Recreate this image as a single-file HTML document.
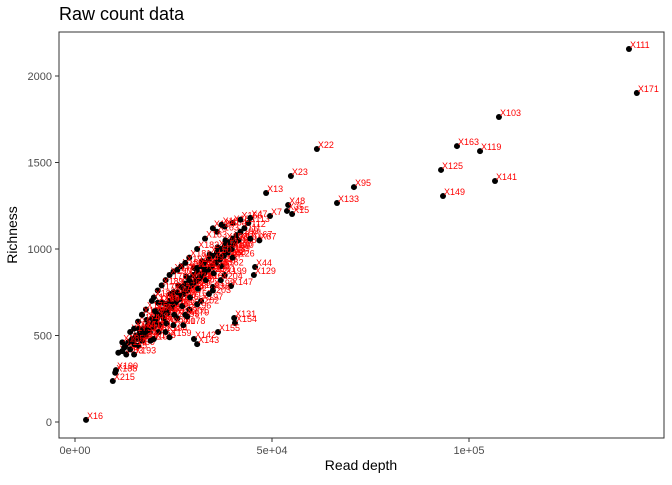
<!DOCTYPE html>
<html><head><meta charset="utf-8"><style>
body{margin:0;background:#fff;font-family:"Liberation Sans",sans-serif}
svg text{font-family:"Liberation Sans",sans-serif}
</style></head><body>
<svg id="chart" width="672" height="480">
<text x="59" y="20" font-size="18" fill="#000">Raw count data</text>
<rect x="59" y="32" width="605" height="406" fill="#fff" stroke="#333" stroke-width="1"/>
<text x="361" y="470" font-size="14" text-anchor="middle">Read depth</text>
<text x="17" y="235" font-size="14" text-anchor="middle" transform="rotate(-90 17 235)">Richness</text>
<g id="axes"></g><g id="marks"></g>
</svg>
<script>
const xTicks=[0,50000,100000];
const xTickLabels=["0e+00","5e+04","1e+05"];
const yTicks=[0,500,1000,1500,2000];
const yTickLabels=["0","500","1000","1500","2000"];
const sampleNames=["X111","X171","X103","X163","X119","X125","X141","X149","X22","X23","X95","X13","X133","X48","X35","X15","X7","X47","X44","X129","X147","X131","X154","X155","X142","X16","X215","X188","X190","X18","X87","X126","X178","X179","X143","X159","X193","X78","X36","X55"];
const depth=[140600,142600,107600,96950,102800,92900,106600,93400,61400,54800,70800,48500,66500,54100,53800,55100,49500,44500,45700,45400,39600,40400,40600,36300,30200,2800,9600,10200,10400,37200,46800,40000,27500,28500,31000,24000,15000,31000,35000,20500];
const richness=[2156,1902,1763,1595,1566,1457,1393,1306,1578,1422,1358,1324,1266,1254,1220,1202,1191,1180,896,850,786,601,572,520,480,12,237,285,300,1140,1050,950,560,610,450,490,390,890,760,640];
const clusterDepth=[11000,12000,12500,13000,13500,14000,14500,15000,15500,16000,16500,17000,17500,18000,18500,19000,19500,20000,20500,21000,21500,22000,22500,23000,23500,24000,24500,25000,25500,26000,26500,27000,27500,28000,28500,29000,29500,30000,30500,31000,31500,32000,32500,33000,33500,34000,34500,35000,35500,36000,36500,37000,37500,38000,38500,39000,39500,40000,40500,41000,41500,42000,43000,44000,12800,14200,15800,16800,17800,18800,19800,20800,21800,22800,23800,24800,25800,26800,27800,28800,29800,30800,31800,32800,33800,34800,35800,36800,37800,38800,39800,16200,18200,20200,22200,24200,26200,28200,30200,32200,34200,36200,38200,19200,21200,23200,25200,27200,29200,31200,33200,35200,37200,36000,38000,40000,42000,44500,17000,21000,25000,29000,33000,14000,16000,18000,19500,21000,23000,25000,27000,29000,31000,33000,35000,12000,15000,17000,20000,22000,24000,26000,28000,20000,23000,26000,29000,32000,35000,38000,25000,28000,31000,34000,37000];
const clusterRich=[400,410,430,390,460,420,480,450,500,440,520,470,540,500,560,520,600,550,580,620,560,650,600,680,630,700,660,720,690,750,710,780,740,800,760,830,790,850,810,870,830,900,860,920,880,940,900,960,920,980,950,1000,960,1020,990,1040,1010,1060,1030,1080,1050,1100,1120,1150,440,470,480,500,520,540,570,600,620,640,660,680,700,730,760,780,800,820,840,860,880,900,920,940,960,980,1000,540,590,640,690,740,790,840,890,930,970,1010,1050,470,520,570,620,670,720,770,820,860,900,1100,1130,1150,1170,1060,620,690,750,820,880,520,580,650,700,760,820,870,900,950,1000,1060,1120,460,540,620,720,790,850,880,920,480,520,600,650,700,780,850,560,620,680,740,820];
const xs=v=>75+v/50000*197;
const ys=v=>422-v/500*86.5;
const NS="http://www.w3.org/2000/svg";
const axes=document.getElementById('axes'),marks=document.getElementById('marks');
function mk(tag,attrs,parent){const e=document.createElementNS(NS,tag);for(const k in attrs)e.setAttribute(k,attrs[k]);parent.appendChild(e);return e;}
xTicks.forEach((t,i)=>{
 const l=mk('line',{x1:xs(t),x2:xs(t),y1:438,y2:442,stroke:'#333'},axes);
 
 
 const tx=mk('text',{x:xs(t),y:454,'font-size':11,fill:'#4d4d4d','text-anchor':'middle'},axes);
 tx.textContent=xTickLabels[i];
 
 
});
yTicks.forEach((t,i)=>{
 const l=mk('line',{x1:55,x2:59,y1:ys(t),y2:ys(t),stroke:'#333'},axes);
 
 
 const tx=mk('text',{x:52,y:ys(t)+4,'font-size':11,fill:'#4d4d4d','text-anchor':'end'},axes);
 tx.textContent=yTickLabels[i];
 
 
});
function point(d,r,name){
 const c=mk('circle',{cx:xs(d),cy:ys(r),r:3,fill:'#000'},marks);
 
 
 const t=mk('text',{x:xs(d)+1,y:ys(r)-1,'font-size':9,fill:'#ff0000'},marks);
 t.textContent=name;
 
 
}
clusterDepth.forEach((d,i)=>point(d,clusterRich[i],'X'+(i+50)));
depth.forEach((d,i)=>point(d,richness[i],sampleNames[i]));
</script>
</body></html>
